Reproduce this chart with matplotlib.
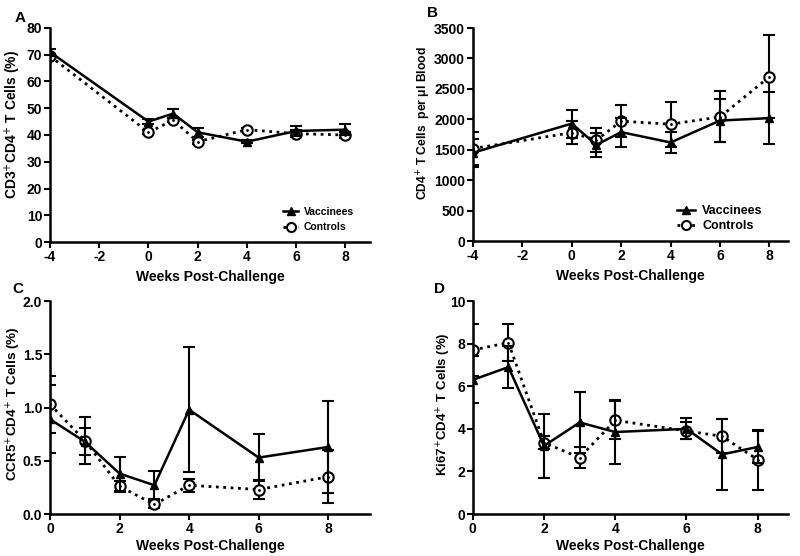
import matplotlib
matplotlib.use("Agg")
import matplotlib.pyplot as plt
from matplotlib.lines import Line2D
import numpy as np

plt.rcParams["font.family"] = ["Liberation Sans", "DejaVu Sans"]
plt.rcParams["axes.unicode_minus"] = False

# Panel A: CD3+CD4+ T cells (%)
weeks_a = [-4, 0, 1, 2, 4, 6, 8]
vac_a = [71, 45, 48, 41, 37.5, 41.5, 42]
vac_a_err = [1.0, 1.0, 1.8, 1.8, 0.5, 2.0, 2.0]
ctl_a = [69.5, 41, 45.5, 37.5, 42, 40.5, 40]
ctl_a_err = [0.8, 0.8, 0.8, 0.8, 0.5, 1.2, 1.2]

# Panel B: CD4+ T cells per ul blood
weeks_b = [-4, 0, 1, 2, 4, 6, 8]
vac_b = [1450, 1930, 1580, 1790, 1620, 1980, 2020]
vac_b_err = [230, 230, 200, 240, 170, 360, 430]
ctl_b = [1520, 1780, 1660, 1970, 1920, 2040, 2700]
ctl_b_err = [270, 190, 190, 260, 370, 420, 680]

# Panel C: CCR5+CD4+ T cells (%)
weeks_c = [0, 1, 2, 3, 4, 6, 8]
vac_c = [0.89, 0.68, 0.38, 0.27, 0.98, 0.53, 0.63]
vac_c_err = [0.32, 0.13, 0.16, 0.13, 0.59, 0.22, 0.43]
ctl_c = [1.03, 0.69, 0.26, 0.09, 0.27, 0.23, 0.35]
ctl_c_err = [0.27, 0.22, 0.05, 0.03, 0.06, 0.09, 0.25]

# Panel D: Ki67+CD4+ T cells (%)
weeks_d = [0, 1, 2, 3, 4, 6, 7, 8]
vac_d = [6.3, 6.9, 3.2, 4.3, 3.85, 4.0, 2.8, 3.15]
vac_d_err = [1.1, 1.0, 1.5, 1.45, 1.5, 0.5, 1.65, 0.75]
ctl_d = [7.7, 8.05, 3.35, 2.65, 4.4, 3.9, 3.65, 2.55]
ctl_d_err = [1.2, 0.85, 0.3, 0.5, 0.9, 0.4, 0.8, 1.4]

fig = plt.figure(figsize=(8, 5.56), dpi=100)

# letter, rect, data..., xlim, xticks, ylim, yticks, ylabel, ylabel size/coords,
# xlabel y, letter pos
panels = [
    ("A", [0.0625, 0.5647, 0.40, 0.385], weeks_a, vac_a, vac_a_err, ctl_a, ctl_a_err,
     (-4, 9), np.arange(-4, 9, 2), (0, 80), np.arange(0, 81, 10),
     "CD3$^{+}$CD4$^{+}$ T Cells (%)", 10, (-0.083, 0.547), -0.13, (-0.11, 1.03)),
    ("B", [0.591, 0.5665, 0.394, 0.383], weeks_b, vac_b, vac_b_err, ctl_b, ctl_b_err,
     (-4, 8.75), np.arange(-4, 9, 2), (0, 3500), np.arange(0, 3501, 500),
     "CD4$^{+}$ T Cells  per μl Blood", 8.7, (-0.125, 0.554), -0.13, (-0.146, 1.05)),
    ("C", [0.0625, 0.0755, 0.40, 0.383], weeks_c, vac_c, vac_c_err, ctl_c, ctl_c_err,
     (0, 9.2), np.arange(0, 9, 2), (0, 2.0), np.arange(0, 2.01, 0.5),
     "CCR5$^{+}$CD4$^{+}$ T Cells (%)", 9.7, (-0.083, 0.52), -0.115, (-0.119, 1.04)),
    ("D", [0.591, 0.0755, 0.394, 0.383], weeks_d, vac_d, vac_d_err, ctl_d, ctl_d_err,
     (0, 8.85), np.arange(0, 9, 2), (0, 10), np.arange(0, 11, 2),
     "Ki67$^{+}$CD4$^{+}$ T Cells (%)", 9.5, (-0.062, 0.516), -0.115, (-0.123, 1.04)),
]

# legend: font size, anchor, label spacing
legends = {"A": (7.5, (0.98, 0.002), 0.5), "B": (9, (0.955, -0.012), 0.25)}

for (letter, rect, wk, v, ve, c, ce, xlim, xt, ylim, yt, ylab, ylsize, ylpos,
     xly, letpos) in panels:
    ax = fig.add_axes(rect)
    ax.errorbar(wk, c, yerr=ce, color="black", ls=":", lw=2, marker="o",
                ms=7.5, mfc="white", mec="black", mew=1.5, capsize=4,
                elinewidth=1.5, capthick=1.5, zorder=2)
    ax.plot(wk, c, ls="none", marker=".", ms=2, color="black", zorder=3)
    ax.errorbar(wk, v, yerr=ve, color="black", ls="-", lw=1.8, marker="^",
                ms=6, capsize=4, elinewidth=1.5, capthick=1.5, zorder=4)
    ax.set_xlim(*xlim)
    ax.set_ylim(*ylim)
    ax.set_xticks(xt)
    ax.set_yticks(yt)
    if letter == "C":
        ax.set_yticklabels([f"{t:.1f}" for t in yt])
    for s in ["top", "right"]:
        ax.spines[s].set_visible(False)
    for s in ["left", "bottom"]:
        ax.spines[s].set_linewidth(1.8)
    ax.tick_params(direction="out", width=1.5, length=4, pad=1.5, labelsize=10)
    for lab in ax.get_xticklabels() + ax.get_yticklabels():
        lab.set_fontweight("bold")
    ax.set_xlabel("Weeks Post-Challenge", fontsize=10, fontweight="bold")
    ax.xaxis.set_label_coords(0.5, xly)
    ax.set_ylabel(ylab, fontsize=ylsize, fontweight="bold")
    ax.yaxis.set_label_coords(*ylpos)
    ax.text(letpos[0], letpos[1], letter, transform=ax.transAxes,
            fontsize=11, fontweight="bold")
    if letter in legends:
        legsize, anchor, spacing = legends[letter]
        handles = [
            Line2D([], [], color="black", ls="-", lw=1.8, marker="^", ms=6),
            Line2D([], [], color="black", ls=":", lw=2, marker="o", ms=6.5,
                   mfc="white", mew=1.5),
        ]
        leg = ax.legend(handles, ["Vaccinees", "Controls"], loc="lower right",
                        frameon=False, fontsize=legsize, handlelength=1.4,
                        handletextpad=0.6, labelspacing=spacing,
                        bbox_to_anchor=anchor)
        for t in leg.get_texts():
            t.set_fontweight("bold")

fig.savefig("out.png", dpi=100)
